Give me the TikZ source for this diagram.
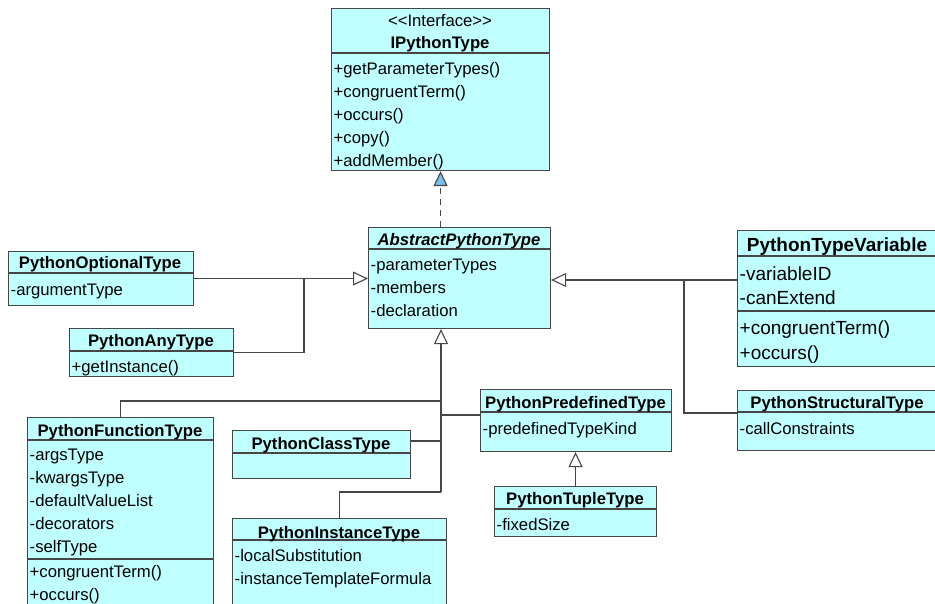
\documentclass[tikz,border=0pt]{standalone}
\usepackage{fontspec}
\setmainfont{Liberation Sans}
\usetikzlibrary{arrows.meta}

\definecolor{clsfill}{RGB}{192,255,255}
\definecolor{edge}{RGB}{70,70,70}
\definecolor{realblue}{RGB}{120,192,236}
\newcommand\umlfont{\fontsize{16.7}{23}\selectfont}
\newcommand\umlbigfont{\fontsize{19}{24.5}\selectfont}

\tikzset{
  cls/.style={draw=edge, fill=clsfill, line width=1.1pt, anchor=north west, inner sep=0pt},
  div/.style={draw=edge, line width=1.1pt},
  hdr/.style={anchor=base, inner sep=0pt, font=\umlfont\bfseries},
  rows/.style={anchor=north west, inner sep=0pt, align=left, font=\umlfont, execute at begin node=\strut},
  link/.style={draw=edge, line width=1.1pt},
  gen/.style={link, -{Triangle[open, length=15pt, width=14pt]}},
  realize/.style={link, dash pattern=on 6pt off 5pt, -{Triangle[fill=realblue, length=15pt, width=14pt]}},
}

\begin{document}
\begin{tikzpicture}[x=1pt, y=-1pt]
\useasboundingbox (0,0) rectangle (935,604);
\clip (0,0) rectangle (935,604);

% class boxes
\node[cls, minimum width=218pt, minimum height=162pt] (ipt) at (331,8) {};
\node[cls, minimum width=182pt, minimum height=101pt] (apt) at (368,227) {};
\node[cls, minimum width=185pt, minimum height=54pt] (opt) at (8,251) {};
\node[cls, minimum width=164pt, minimum height=48pt] (any) at (69,328) {};
\node[cls, minimum width=202pt, minimum height=136pt] (tvar) at (737,230) {};
\node[cls, minimum width=186pt, minimum height=200pt] (func) at (27,417) {};
\node[cls, minimum width=178pt, minimum height=48pt] (ctype) at (232,430) {};
\node[cls, minimum width=214pt, minimum height=120pt] (inst) at (232,518) {};
\node[cls, minimum width=191pt, minimum height=62pt] (pre) at (480,389) {};
\node[cls, minimum width=162pt, minimum height=50pt] (tup) at (494,486) {};
\node[cls, minimum width=202pt, minimum height=60pt] (struc) at (737,390) {};

% compartment lines
\draw[div] (331,53) -- (549,53);
\draw[div] (368,249) -- (550,249);
\draw[div] (8,273) -- (193,273);
\draw[div] (69,351) -- (233,351);
\draw[div] (737,256) -- (939,256);
\draw[div] (737,311) -- (939,311);
\draw[div] (27,440) -- (213,440);
\draw[div] (27,559) -- (213,559);
\draw[div] (232,453) -- (410,453);
\draw[div] (232,540) -- (446,540);
\draw[div] (480,412) -- (671,412);
\draw[div] (494,509) -- (656,509);
\draw[div] (737,412) -- (939,412);

% names and members
\node[hdr, font=\umlfont] at (440,27) {<\kern0pt<Interface>\kern0pt>};
\node[hdr] at (440,49) {IPythonType};
\node[rows] at (333.5,62.5) {+getParameterTypes()\\+congruentTerm()\\+occurs()\\+copy()\\+addMember()};

\node[hdr, font=\umlfont\bfseries\itshape] at (459,245.5) {AbstractPythonType};
\node[rows] at (370.5,259) {-parameterTypes\\-members\\-declaration};

\node[hdr] at (100,269) {PythonOptionalType};
\node[rows] at (10.5,279) {-argumentType};

\node[hdr] at (151,346) {PythonAnyType};
\node[rows] at (71.5,356) {+getInstance()};

\node[hdr, font=\umlbigfont\bfseries] at (837,252) {PythonTypeVariable};
\node[rows, font=\umlbigfont] at (739.5,266.5) {-variableID\\-canExtend};
\node[rows, font=\umlbigfont] at (739.5,321) {+congruentTerm()\\+occurs()};

\node[hdr] at (120,436) {PythonFunctionType};
\node[rows] at (29.5,449) {-argsType\\-kwargsType\\-defaultValueList\\-decorators\\-selfType};
\node[rows] at (29.5,565.5) {+congruentTerm()\\+occurs()};

\node[hdr] at (321,449) {PythonClassType};

\node[hdr] at (339,538) {PythonInstanceType};
\node[rows] at (234.5,549) {-localSubstitution\\-instanceTemplateFormula};

\node[hdr] at (575.5,408) {PythonPredefinedType};
\node[rows] at (482.5,418) {-predefinedTypeKind};

\node[hdr] at (575,504) {PythonTupleType};
\node[rows] at (496.5,514) {-fixedSize};

\node[hdr] at (837,408) {PythonStructuralType};
\node[rows] at (739.5,418) {-callConstraints};

% junctions
\coordinate (jl) at (304,278);
\coordinate (jr) at (684,280);
\coordinate (js) at (684,413);
\coordinate (jf) at (441,401);
\coordinate (jp) at (441,415);
\coordinate (jc) at (441,441);
\coordinate (jb) at (441,492);

% realization and generalizations
\draw[realize] (ipt.south |- apt.north) -- (ipt.south);
\draw[gen] (opt.east) -- (opt.east -| apt.west);
\draw[link] (any.east) -| (jl);
\draw[gen] (tvar.west |- jr) -- (apt.east |- jr);
\draw[link] (struc.west |- js) -- (js) -- (jr);
\draw[gen] (jb) -- (jb |- apt.south);
\draw[link] (func.north) |- (jf);
\draw[link] (ctype.east |- jc) -- (jc);
\draw[link] (pre.west |- jp) -- (jp);
\draw[link] (inst.north) |- (jb);
\draw[gen] (tup.north) -- (tup.north |- pre.south);
\end{tikzpicture}
\end{document}
